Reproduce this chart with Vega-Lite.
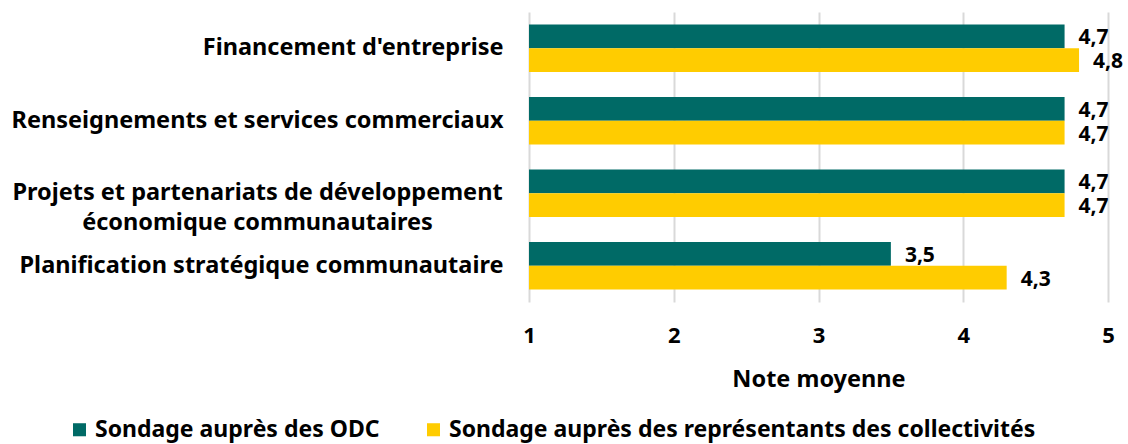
{
  "$schema": "https://vega.github.io/schema/vega-lite/v6.json",
  "width": 579,
  "height": 290,
  "autosize": "none",
  "padding": {"left": 529, "top": 12, "right": 20, "bottom": 142},
  "config": {
    "view": {"stroke": null},
    "font": "Noto Sans",
    "locale": {"number": {"decimal": ",", "thousands": " ", "grouping": [3], "currency": ["", " €"]}}
  },
  "data": {
    "values": [
      {"cat": "Financement d'entreprise", "serie": "Sondage auprès des ODC", "note": 4.7},
      {"cat": "Financement d'entreprise", "serie": "Sondage auprès des représentants des collectivités", "note": 4.8},
      {"cat": "Renseignements et services commerciaux", "serie": "Sondage auprès des ODC", "note": 4.7},
      {"cat": "Renseignements et services commerciaux", "serie": "Sondage auprès des représentants des collectivités", "note": 4.7},
      {"cat": "Projets et partenariats de développement économique communautaires", "serie": "Sondage auprès des ODC", "note": 4.7},
      {"cat": "Projets et partenariats de développement économique communautaires", "serie": "Sondage auprès des représentants des collectivités", "note": 4.7},
      {"cat": "Planification stratégique communautaire", "serie": "Sondage auprès des ODC", "note": 3.5},
      {"cat": "Planification stratégique communautaire", "serie": "Sondage auprès des représentants des collectivités", "note": 4.3}
    ]
  },
  "encoding": {
    "y": {
      "field": "cat",
      "type": "nominal",
      "sort": null,
      "scale": {"paddingInner": 0.345, "paddingOuter": 0.1725},
      "axis": {
        "title": null,
        "domain": false,
        "ticks": false,
        "labelFont": "Noto Sans",
        "labelFontWeight": "bold",
        "labelFontSize": 23.5,
        "labelColor": "#000000",
        "labelLimit": 700,
        "labelLineHeight": 30,
        "labelExpr": "datum.value == 'Projets et partenariats de développement économique communautaires' ? ['Projets et partenariats de développement', 'économique communautaires'] : datum.value",
        "labelAlign": {"condition": {"test": "datum.value == 'Projets et partenariats de développement économique communautaires'", "value": "center"}, "value": "right"},
        "labelPadding": {"condition": {"test": "datum.value == 'Projets et partenariats de développement économique communautaires'", "value": 272}, "value": 26}
      }
    },
    "yOffset": {"field": "serie", "type": "nominal", "sort": ["Sondage auprès des ODC", "Sondage auprès des représentants des collectivités"]},
    "x": {
      "field": "note",
      "type": "quantitative",
      "scale": {"domain": [1, 5], "nice": false, "zero": false},
      "axis": {
        "title": "Note moyenne",
        "values": [1, 2, 3, 4, 5],
        "format": "d",
        "domain": false,
        "ticks": false,
        "grid": true,
        "gridColor": "#d9d9d9",
        "gridWidth": 2,
        "labelFlush": false,
        "labelFont": "Noto Sans",
        "labelFontWeight": "bold",
        "labelFontSize": 22,
        "labelColor": "#000000",
        "labelPadding": 23,
        "titleFont": "Noto Sans",
        "titleFontWeight": "bold",
        "titleFontSize": 23.5,
        "titleColor": "#000000",
        "titlePadding": 21
      }
    }
  },
  "layer": [
    {
      "mark": {"type": "bar"},
      "encoding": {
        "x2": {"datum": 1},
        "color": {
          "field": "serie",
          "type": "nominal",
          "sort": ["Sondage auprès des ODC", "Sondage auprès des représentants des collectivités"],
          "scale": {"range": ["#006A66", "#FFCC00"]},
          "legend": {
            "title": null,
            "orient": "none",
            "direction": "horizontal",
            "legendX": -461,
            "legendY": 406,
            "symbolType": "square",
            "symbolSize": 170,
            "symbolStrokeWidth": 0,
            "labelFont": "Noto Sans",
            "labelFontWeight": "bold",
            "labelFontSize": 23,
            "labelColor": "#000000",
            "labelLimit": 800,
            "labelOffset": 4,
            "columnPadding": 42
          }
        }
      }
    },
    {
      "mark": {"type": "text", "align": "left", "baseline": "middle", "dx": 14, "dy": 2, "font": "Noto Sans", "fontWeight": "bold", "fontSize": 21, "color": "#000000"},
      "encoding": {
        "text": {"field": "note", "type": "quantitative", "format": ".1f"}
      }
    }
  ]
}
